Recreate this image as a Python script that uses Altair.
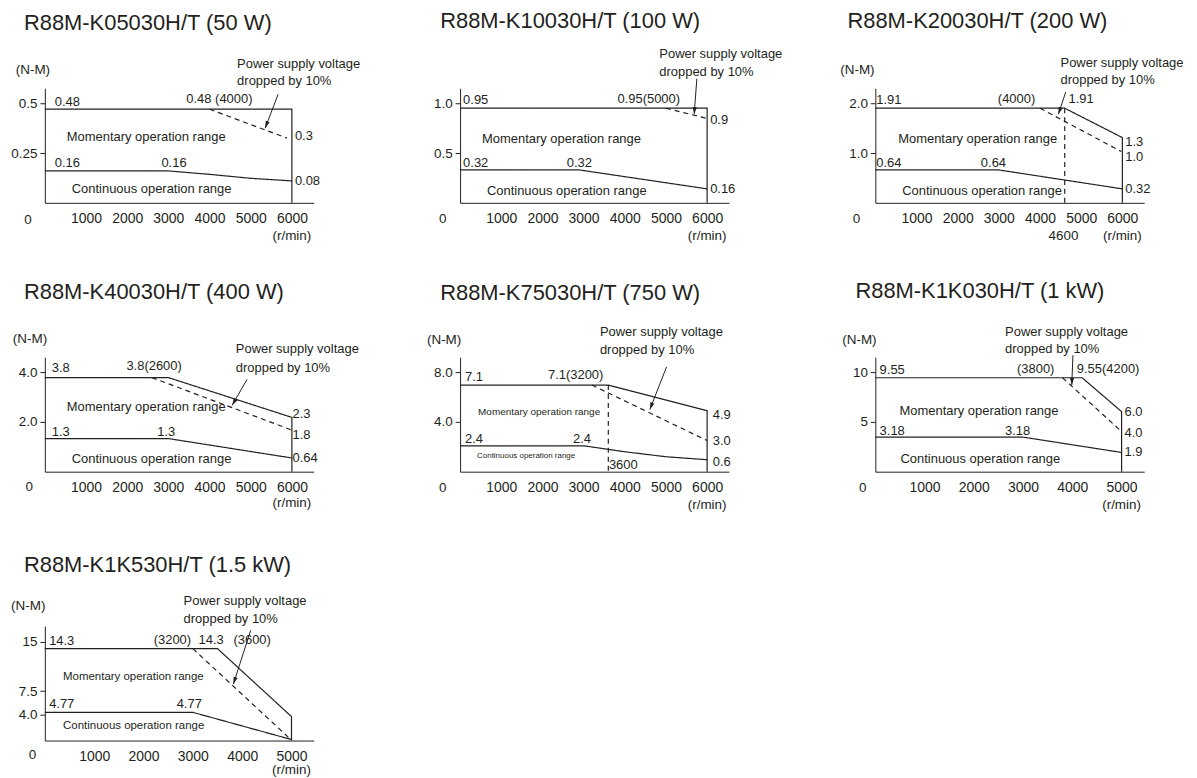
import math
import altair as alt
import pandas as pd

FONT = "Liberation Sans"
INK = "#231f20"
PANEL_W = 270
PANEL_H = 115

# ---------------- Panel 1 : 50 W ----------------
P1_TITLE = "R88M-K05030H/T (50 W)"
P1_X_MAX = 6530
P1_Y_MAX = 0.575
P1_X_TICKS = [1000, 2000, 3000, 4000, 5000, 6000]
P1_Y_TICKS = [0.25, 0.5]
P1_Y_TICK_LABELS = ["0.25", "0.5"]
P1_MOMENTARY = [(0, 0.47), (6000, 0.47), (6000, 0)]
P1_DROPPED = [(4000, 0.47), (5880, 0.325)]
P1_CONTINUOUS = [(0, 0.16), (3000, 0.16), (4000, 0.143), (5000, 0.123), (6000, 0.11)]
P1_ARROW = [(5666, 0.545), (5351, 0.375)]
P1_LABELS = [("0.48", 242, 0.505, 13), ("0.48 (4000)", 3436, 0.52, 13),
             ("Momentary operation range", 532, 0.33, 13), ("0.16", 242, 0.2, 13),
             ("0.16", 2831, 0.2, 13), ("Continuous operation range", 653, 0.07, 13),
             ("0.3", 6073, 0.335, 13), ("0.08", 6073, 0.11, 13),
             ("Power supply voltage", 4670, 0.695, 13), ("dropped by 10%", 4670, 0.61, 13)]
P1_CENTER_LABELS = [("(N-M)", -290, 0.665), ("0", -410, -0.085), ("(r/min)", 6000, -0.165)]

# ---------------- Panel 2 : 100 W ----------------
P2_TITLE = "R88M-K10030H/T (100 W)"
P2_X_MAX = 6530
P2_Y_MAX = 1.15
P2_X_TICKS = [1000, 2000, 3000, 4000, 5000, 6000]
P2_Y_TICKS = [0.5, 1.0]
P2_Y_TICK_LABELS = ["0.5", "1.0"]
P2_MOMENTARY = [(0, 0.95), (6000, 0.95), (6000, 0)]
P2_DROPPED = [(5000, 0.95), (5970, 0.85)]
P2_CONTINUOUS = [(0, 0.33), (2900, 0.33), (6000, 0.14)]
P2_ARROW = [(5751, 1.247), (5686, 0.89)]
P2_LABELS = [("Power supply voltage", 4839, 1.497, 13), ("dropped by 10%", 4839, 1.313, 13),
             ("0.95", 73, 1.03, 13), ("0.95(5000)", 3823, 1.043, 13),
             ("Momentary operation range", 532, 0.637, 13), ("0.32", 73, 0.403, 13),
             ("0.32", 2589, 0.403, 13), ("Continuous operation range", 653, 0.12, 13),
             ("0.9", 6073, 0.83, 13), ("0.16", 6073, 0.137, 13)]
P2_CENTER_LABELS = [("0", -419, -0.163), ("(r/min)", 6000, -0.33)]

# ---------------- Panel 3 : 200 W ----------------
P3_TITLE = "R88M-K20030H/T (200 W)"
P3_X_MAX = 6530
P3_Y_MAX = 2.3
P3_X_TICKS = [1000, 2000, 3000, 4000, 5000, 6000]
P3_Y_TICKS = [1.0, 2.0]
P3_Y_TICK_LABELS = ["1.0", "2.0"]
P3_MOMENTARY = [(0, 1.9), (4600, 1.9), (6000, 1.31), (6000, 0)]
P3_DROPPED = [(4000, 1.9), (5975, 1.03)]
P3_LIMIT = [(4600, 1.9), (4600, 0)]
P3_CONTINUOUS = [(0, 0.66), (3000, 0.66), (6000, 0.28)]
P3_ARROW = [(4625, 2.226), (4446, 1.78)]
P3_LABELS = [("Power supply voltage", 4498, 2.814, 13), ("dropped by 10%", 4498, 2.46, 13),
             ("1.91", 24, 2.06, 13), ("(4000)", 2975, 2.08, 13), ("1.91", 4692, 2.08, 13),
             ("Momentary operation range", 556, 1.274, 13), ("1.3", 6070, 1.226, 13),
             ("1.0", 6070, 0.914, 13), ("0.64", 24, 0.806, 13), ("0.64", 2563, 0.806, 13),
             ("Continuous operation range", 653, 0.24, 13), ("0.32", 6070, 0.274, 13)]
P3_CENTER_LABELS = [("(N-M)", -435, 2.66), ("0", -459, -0.32), ("4600", 4571, -0.66),
                    ("(r/min)", 6000, -0.66)]

# ---------------- Panel 4 : 400 W ----------------
P4_TITLE = "R88M-K40030H/T (400 W)"
P4_X_MAX = 6530
P4_Y_MAX = 4.6
P4_X_TICKS = [1000, 2000, 3000, 4000, 5000, 6000]
P4_Y_TICKS = [2.0, 4.0]
P4_Y_TICK_LABELS = ["2.0", "4.0"]
P4_MOMENTARY = [(0, 3.78), (3000, 3.78), (6000, 2.18), (6000, 0)]
P4_DROPPED = [(2600, 3.78), (6000, 1.67)]
P4_CONTINUOUS = [(0, 1.33), (3000, 1.33), (6000, 0.55)]
P4_ARROW = [(4912, 3.71), (4550, 2.67)]
P4_LABELS = [("Power supply voltage", 4639, 4.91, 13), ("dropped by 10%", 4639, 4.15, 13),
             ("3.8", 169, 4.15, 13), ("3.8(2600)", 1981, 4.24, 13),
             ("Momentary operation range", 532, 2.58, 13), ("2.3", 6016, 2.31, 13),
             ("1.8", 6016, 1.48, 13), ("1.3", 169, 1.6, 13), ("1.3", 2730, 1.6, 13),
             ("Continuous operation range", 652, 0.51, 13), ("0.64", 6016, 0.55, 13)]
P4_CENTER_LABELS = [("(N-M)", -362, 5.34), ("0", -379, -0.62), ("(r/min)", 6000, -1.25)]

# ---------------- Panel 5 : 750 W ----------------
P5_TITLE = "R88M-K75030H/T (750 W)"
P5_X_MAX = 6530
P5_Y_MAX = 9.2
P5_X_TICKS = [1000, 2000, 3000, 4000, 5000, 6000]
P5_Y_TICKS = [4.0, 8.0]
P5_Y_TICK_LABELS = ["4.0", "8.0"]
P5_MOMENTARY = [(0, 6.96), (3600, 6.96), (6000, 4.9), (6000, 0)]
P5_DROPPED = [(3200, 6.96), (6000, 2.5)]
P5_LIMIT = [(3600, 6.96), (3600, 0)]
P5_CONTINUOUS = [(0, 2.08), (3000, 2.08), (4000, 1.6), (5000, 1.2), (6000, 0.96)]
P5_ARROW = [(5015, 8.42), (4609, 5.0)]
P5_LABELS = [("Power supply voltage", 3396, 11.18, 13), ("dropped by 10%", 3396, 9.76, 13),
             ("7.1", 121, 7.62, 13), ("7.1(3200)", 2135, 7.76, 13),
             ("Momentary operation range", 437, 4.82, 10), ("4.9", 6138, 4.56, 13),
             ("3.0", 6138, 2.5, 13), ("2.4", 121, 2.64, 13), ("2.4", 2741, 2.64, 13),
             ("Continuous operation range", 412, 1.22, 8), ("3600", 3615, 0.56, 13),
             ("0.6", 6138, 0.74, 13)]
P5_CENTER_LABELS = [("(N-M)", -388, 10.56), ("0", -420, -1.3), ("(r/min)", 6000, -2.64)]

# ---------------- Panel 6 : 1 kW ----------------
P6_TITLE = "R88M-K1K030H/T (1 kW)"
P6_X_MAX = 5459
P6_Y_MAX = 11.5
P6_X_TICKS = [1000, 2000, 3000, 4000, 5000]
P6_Y_TICKS = [5, 10]
P6_Y_TICK_LABELS = ["5", "10"]
P6_MOMENTARY = [(0, 9.43), (4200, 9.43), (5000, 6.03), (5000, 0)]
P6_DROPPED = [(3800, 9.43), (5000, 4.03)]
P6_CONTINUOUS = [(0, 3.47), (3000, 3.47), (5000, 1.93)]
P6_ARROW = [(4012, 11.7), (3989, 8.7)]
P6_LABELS = [("Power supply voltage", 2634, 14.03, 13), ("dropped by 10%", 2634, 12.27, 13),
             ("9.55", 87, 10.2, 13), ("(3800)", 2877, 10.3, 13), ("9.55(4200)", 4091, 10.3, 13),
             ("Momentary operation range", 491, 6.13, 13), ("6.0", 5060, 6.03, 13),
             ("4.0", 5060, 3.93, 13), ("3.18", 87, 4.13, 13), ("3.18", 2634, 4.13, 13),
             ("Continuous operation range", 511, 1.3, 13), ("1.9", 5060, 1.93, 13)]
P6_CENTER_LABELS = [("(N-M)", -323, 13.2), ("0", -257, -1.63), ("(r/min)", 5000, -3.3)]

# ---------------- Panel 7 : 1.5 kW ----------------
P7_TITLE = "R88M-K1K530H/T (1.5 kW)"
P7_X_MAX = 5450
P7_Y_MAX = 17.42
P7_X_TICKS = [1000, 2000, 3000, 4000, 5000]
P7_Y_TICKS = [4.0, 7.5, 15]
P7_Y_TICK_LABELS = ["4.0", "7.5", "15"]
P7_MOMENTARY = [(0, 13.98), (3500, 13.98), (5000, 3.64), (5000, 0)]
P7_DROPPED = [(3000, 13.98), (4950, 0.4)]
P7_CONTINUOUS = [(0, 4.29), (3000, 4.29), (5000, 0.15)]
P7_ARROW = [(4172, 16.77), (3823, 8.6)]
P7_LABELS = [("Power supply voltage", 2812, 21.2, 13), ("dropped by 10%", 2812, 18.53, 13),
             ("14.3", 87, 15.15, 13), ("(3200)", 2207, 15.3, 13), ("14.3", 3116, 15.3, 13),
             ("(3600)", 3823, 15.3, 13), ("Momentary operation range", 370, 9.7, 11.5),
             ("4.77", 87, 5.56, 13), ("4.77", 2672, 5.56, 13),
             ("Continuous operation range", 370, 2.27, 11.5)]
P7_CENTER_LABELS = [("(N-M)", -337, 20.45), ("0", -250, -2.27), ("(r/min)", 5000, -4.44)]

# title placement relative to plot's top-left corner (px)
TITLE_POS = [(-21, -59), (-20, -61), (-28, -61), (-21, -58), (-20, -57), (-20, -59), (-21, -54)]

ARROW_PATH = "M0,0L-0.3,-1L0.3,-1Z"


def make_panel(title, title_pos, x_max, y_max, x_ticks, y_ticks, y_tick_labels,
               solid_lines, dashed_lines, arrow, labels, center_labels):
    rows = []
    for i, pts in enumerate(solid_lines):
        for j, (x, y) in enumerate(pts):
            rows.append({"x": x, "y": y, "seg": f"s{i}", "ord": j, "style": "solid"})
    for i, pts in enumerate(dashed_lines):
        for j, (x, y) in enumerate(pts):
            rows.append({"x": x, "y": y, "seg": f"d{i}", "ord": j, "style": "dashed"})
    lines_df = pd.DataFrame(rows)

    xs = alt.Scale(domain=[0, x_max], nice=False, zero=True)
    ys = alt.Scale(domain=[0, y_max], nice=False, zero=True)

    parts = [f"datum.value == {v} ? '{t}'" for v, t in zip(y_ticks, y_tick_labels)]
    label_expr = " : ".join(parts) + " : ''"

    x_axis = alt.Axis(values=x_ticks, format="d", ticks=False, labelPadding=9,
                      domainColor=INK, labelColor=INK, labelFont=FONT, labelFontSize=14,
                      grid=False, title=None, labelFlush=False, labelOverlap=False,
                      domainWidth=1)
    y_axis = alt.Axis(values=y_ticks, labelExpr=label_expr, tickSize=5, tickColor=INK,
                      labelPadding=3, domainColor=INK, labelColor=INK, labelFont=FONT,
                      labelFontSize=13.5, grid=False, title=None, labelFlush=False,
                      labelOverlap=False, domainWidth=1, tickWidth=1)

    X = lambda f: alt.X(f, scale=xs, axis=x_axis)
    Y = lambda f: alt.Y(f, scale=ys, axis=y_axis)

    layers = []
    layers.append(alt.Chart(lines_df).mark_line(color=INK, strokeWidth=1.2).encode(
        x=X("x:Q"), y=Y("y:Q"),
        detail="seg:N",
        order=alt.Order("ord:Q"),
        strokeDash=alt.StrokeDash("style:N", scale=alt.Scale(domain=["solid", "dashed"],
                                                              range=[[1, 0], [5, 4]]),
                                  legend=None),
    ))

    (ax, ay), (bx, by) = arrow
    arrow_df = pd.DataFrame({"x": [ax], "y": [ay], "x2": [bx], "y2": [by]})
    kx = PANEL_W / x_max
    ky = PANEL_H / y_max
    dxp = (bx - ax) * kx
    dyp = -(by - ay) * ky
    theta = math.degrees(math.atan2(-dxp, dyp)) % 360
    layers.append(alt.Chart(arrow_df).mark_rule(color=INK, strokeWidth=1).encode(
        x=X("x:Q"), y=Y("y:Q"), x2="x2:Q", y2="y2:Q"))
    layers.append(alt.Chart(arrow_df).mark_point(shape=ARROW_PATH, filled=True, size=200,
                                                 angle=theta, color=INK, opacity=1).encode(
        x=X("x2:Q"), y=Y("y2:Q")))

    lab_df = pd.DataFrame(labels, columns=["text", "x", "y", "size"])
    layers.append(alt.Chart(lab_df).mark_text(align="left", baseline="middle", font=FONT,
                                              color=INK).encode(
        x=X("x:Q"), y=Y("y:Q"),
        text="text:N", size=alt.Size("size:Q", scale=None, legend=None)))

    cen_df = pd.DataFrame(center_labels, columns=["text", "x", "y"])
    layers.append(alt.Chart(cen_df).mark_text(align="center", baseline="middle", font=FONT,
                                              color=INK, fontSize=13.5).encode(
        x=X("x:Q"), y=Y("y:Q"), text="text:N"))

    layers.append(alt.Chart(pd.DataFrame({"t": [title]})).mark_text(
        align="left", baseline="alphabetic", font=FONT, fontSize=22, color=INK).encode(
        x=alt.value(title_pos[0]), y=alt.value(title_pos[1]), text="t:N"))

    return alt.layer(*layers).properties(width=PANEL_W, height=PANEL_H)


p1 = make_panel(P1_TITLE, TITLE_POS[0], P1_X_MAX, P1_Y_MAX, P1_X_TICKS, P1_Y_TICKS,
                P1_Y_TICK_LABELS, [P1_MOMENTARY, P1_CONTINUOUS], [P1_DROPPED],
                P1_ARROW, P1_LABELS, P1_CENTER_LABELS)
p2 = make_panel(P2_TITLE, TITLE_POS[1], P2_X_MAX, P2_Y_MAX, P2_X_TICKS, P2_Y_TICKS,
                P2_Y_TICK_LABELS, [P2_MOMENTARY, P2_CONTINUOUS], [P2_DROPPED],
                P2_ARROW, P2_LABELS, P2_CENTER_LABELS)
p3 = make_panel(P3_TITLE, TITLE_POS[2], P3_X_MAX, P3_Y_MAX, P3_X_TICKS, P3_Y_TICKS,
                P3_Y_TICK_LABELS, [P3_MOMENTARY, P3_CONTINUOUS], [P3_DROPPED, P3_LIMIT],
                P3_ARROW, P3_LABELS, P3_CENTER_LABELS)
p4 = make_panel(P4_TITLE, TITLE_POS[3], P4_X_MAX, P4_Y_MAX, P4_X_TICKS, P4_Y_TICKS,
                P4_Y_TICK_LABELS, [P4_MOMENTARY, P4_CONTINUOUS], [P4_DROPPED],
                P4_ARROW, P4_LABELS, P4_CENTER_LABELS)
p5 = make_panel(P5_TITLE, TITLE_POS[4], P5_X_MAX, P5_Y_MAX, P5_X_TICKS, P5_Y_TICKS,
                P5_Y_TICK_LABELS, [P5_MOMENTARY, P5_CONTINUOUS], [P5_DROPPED, P5_LIMIT],
                P5_ARROW, P5_LABELS, P5_CENTER_LABELS)
p6 = make_panel(P6_TITLE, TITLE_POS[5], P6_X_MAX, P6_Y_MAX, P6_X_TICKS, P6_Y_TICKS,
                P6_Y_TICK_LABELS, [P6_MOMENTARY, P6_CONTINUOUS], [P6_DROPPED],
                P6_ARROW, P6_LABELS, P6_CENTER_LABELS)
p7 = make_panel(P7_TITLE, TITLE_POS[6], P7_X_MAX, P7_Y_MAX, P7_X_TICKS, P7_Y_TICKS,
                P7_Y_TICK_LABELS, [P7_MOMENTARY, P7_CONTINUOUS], [P7_DROPPED],
                P7_ARROW, P7_LABELS, P7_CENTER_LABELS)

chart = alt.concat(p1, p2, p3, p4, p5, p6, p7, columns=3,
                   spacing={"row": 155, "column": 147}).properties(
    bounds="flush",
    padding={"left": 2, "top": 0, "right": 5, "bottom": 5},
    background="white",
).configure_view(stroke=None)

chart.save("out.html", embed_options={"renderer": "svg", "actions": False})
